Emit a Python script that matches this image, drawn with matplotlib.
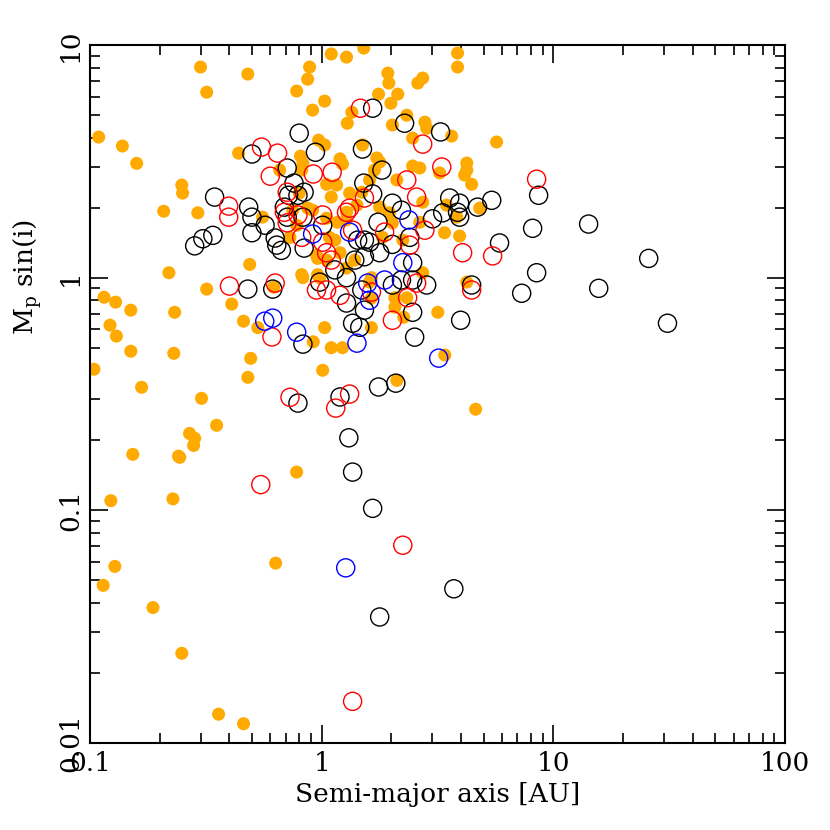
import matplotlib
matplotlib.use("Agg")
import matplotlib.pyplot as plt
from matplotlib.ticker import LogLocator, NullFormatter, FixedLocator

# ---- data: semi-major axis [AU], Mp sin(i) ----
orange_a = [0.30, 0.48, 0.319, 1.10, 1.28, 1.52, 0.887, 0.87, 0.78, 1.03, 0.914, 1.93, 1.95, 1.76,
            2.13, 1.99, 2.60, 2.73, 3.86, 3.86, 1.35, 1.29, 2.02, 2.33, 2.79, 2.84, 3.64, 2.47, 5.69,
            0.97, 1.03, 1.50, 0.438, 0.81, 1.20, 1.23, 1.73, 1.78, 4.23, 4.23, 4.14, 4.44, 2.47, 2.65,
            3.23, 1.69, 2.11, 1.05, 1.16, 0.659, 0.82, 0.249, 0.251, 0.80, 1.10, 1.32, 1.61, 2.73,
            0.292, 0.556, 0.75, 0.914, 1.42, 1.78, 1.96, 3.46, 3.83, 4.81, 3.39, 3.94, 1.28, 2.02,
            1.08, 0.73, 0.96, 1.05, 1.20, 0.489, 0.82, 1.28, 2.73, 0.319, 0.409, 0.46, 0.53, 0.494,
            0.48, 0.303, 0.352, 0.269, 0.283, 0.28, 0.244, 0.78, 0.83, 0.62, 1.03, 0.92, 1.10, 1.23,
            1.01, 1.64, 2.07, 2.07, 2.26, 3.17, 2.11, 3.40, 4.62, 4.23, 1.64, 0.96, 0.109, 0.138,
            0.159, 0.208, 0.219, 0.115, 0.129, 0.15, 0.232, 0.122, 0.13, 0.15, 0.23, 0.104, 0.167,
            0.153, 0.241, 0.123, 0.228, 0.128, 0.114, 0.187, 0.249, 0.359, 0.46, 0.633, 0.83, 1.28,
            0.87, 1.05, 1.17, 0.78, 1.14, 1.49, 2.65, 2.24, 1.83, 0.95, 1.39, 0.98, 1.61, 1.64, 2.33]
orange_m = [8.04, 7.50, 6.27, 9.15, 8.87, 9.70, 8.04, 7.13, 6.34, 5.74, 5.25, 7.57, 6.86, 6.15,
            6.15, 5.62, 6.86, 7.21, 9.23, 8.04, 5.14, 4.61, 4.53, 4.99, 4.66, 4.39, 4.06, 3.98, 3.83,
            3.90, 3.72, 3.72, 3.43, 3.33, 3.24, 3.08, 3.27, 3.14, 3.11, 2.90, 2.76, 2.52, 3.02, 2.96,
            2.82, 2.90, 2.63, 2.52, 2.50, 2.90, 2.90, 2.50, 2.31, 2.31, 2.22, 2.31, 2.63, 2.11,
            1.90, 1.82, 1.95, 1.95, 2.05, 2.01, 1.90, 2.05, 1.82, 1.99, 1.56, 1.51, 1.77, 1.72,
            1.49, 1.49, 1.21, 1.19, 1.28, 1.14, 1.03, 1.10, 1.05, 0.893, 0.77, 0.65, 0.61, 0.45,
            0.373, 0.303, 0.232, 0.214, 0.204, 0.19, 0.169, 0.146, 1.0, 0.91, 0.61, 0.53, 0.50, 0.50,
            0.40, 0.61, 0.82, 0.746, 0.676, 0.71, 0.362, 0.465, 0.272, 0.957, 1.0, 1.03, 4.02, 3.68,
            3.10, 1.93, 1.05, 0.824, 0.785, 0.725, 0.71, 0.625, 0.561, 0.483, 0.473, 0.404, 0.338,
            0.174, 0.171, 0.11, 0.112, 0.0574, 0.0476, 0.0382, 0.0243, 0.0133, 0.0121, 0.0593, 3.10, 1.91,
            1.99, 1.80, 1.73, 1.68, 1.45, 2.33, 1.73, 1.45, 1.49, 1.25, 1.19, 1.0, 0.957, 0.817, 0.82]

black_a = [1.66, 2.28, 3.26, 0.80, 0.94, 1.50, 0.50, 1.82, 0.71, 1.52, 0.76, 0.84, 1.66, 0.72,
           0.79, 0.345, 0.484, 0.50, 0.57, 2.02, 2.21, 3.57, 3.94, 3.94, 4.71, 5.42, 3.33, 3.01,
           1.75, 1.01, 0.83, 0.69, 0.71, 0.283, 0.307, 0.339, 0.50, 0.63, 0.64, 0.67, 0.84, 1.43,
           1.53, 1.61, 2.02, 2.40, 1.78, 1.53, 2.47, 5.86, 1.39, 1.14, 0.48, 0.615, 0.98, 1.28,
           1.49, 1.28, 1.53, 1.36, 1.46, 2.02, 2.21, 2.47, 2.84, 2.47, 2.52, 3.98, 4.44, 0.83,
           0.79, 1.20, 1.76, 2.09, 1.31, 1.36, 1.66, 3.72, 1.78, 8.64, 3.86, 8.14, 14.2, 25.8,
           8.47, 15.7, 7.30, 31.1]
black_m = [5.35, 4.61, 4.23, 4.18, 3.46, 3.57, 3.40, 2.90, 2.96, 2.55, 2.55, 2.33, 2.29, 2.26,
           2.26, 2.22, 2.01, 1.82, 1.68, 2.09, 1.95, 2.20, 2.09, 1.82, 2.01, 2.15, 1.90, 1.79,
           1.73, 1.68, 1.82, 2.01, 1.82, 1.37, 1.47, 1.52, 1.56, 1.48, 1.38, 1.31, 1.34, 1.45,
           1.45, 1.42, 1.39, 1.49, 1.28, 1.23, 1.16, 1.41, 1.19, 1.08, 0.893, 0.893, 0.957, 1.0,
           0.885, 0.778, 0.725, 0.637, 0.612, 0.93, 0.977, 0.977, 0.93, 0.71, 0.555, 0.656, 0.93, 0.518,
           0.289, 0.307, 0.339, 0.352, 0.205, 0.146, 0.102, 0.046, 0.0348, 2.26, 1.91, 1.63, 1.70, 1.21,
           1.05, 0.90, 0.857, 0.637]

red_a = [1.47, 0.55, 0.645, 2.73, 3.30, 0.60, 0.92, 1.11, 2.33, 2.57, 0.71, 1.53, 1.32, 1.28,
         0.397, 0.397, 0.69, 0.71, 0.79, 1.01, 1.36, 1.87, 2.79, 2.40, 0.82, 1.01, 1.05, 1.10,
         4.06, 5.47, 8.47, 0.40, 0.63, 0.95, 1.05, 1.20, 1.64, 2.35, 2.57, 2.02, 0.61, 4.44,
         0.73, 1.32, 1.15, 0.546, 2.24, 1.36]
red_m = [5.35, 3.64, 3.43, 3.75, 2.99, 2.73, 2.79, 2.84, 2.63, 2.22, 2.33, 2.20, 1.99, 1.91,
         2.03, 1.82, 1.91, 1.72, 1.86, 1.86, 1.60, 1.57, 1.60, 1.38, 1.49, 1.42, 1.28, 1.19,
         1.28, 1.24, 2.65, 0.92, 0.948, 0.885, 0.885, 0.84, 0.867, 0.82, 0.948, 0.656, 0.556, 0.885,
         0.306, 0.316, 0.275, 0.129, 0.0708, 0.0151]

blue_a = [0.914, 1.32, 2.38, 2.24, 0.568, 0.615, 0.78, 1.42, 1.58, 1.61, 1.87, 3.20, 1.27]
blue_m = [1.54, 1.57, 1.77, 1.16, 0.65, 0.67, 0.583, 0.523, 0.948, 0.80, 0.977, 0.451, 0.0566]

x_ticks = [0.1, 1, 10, 100]
x_tick_labels = ["0.1", "1", "10", "100"]
y_ticks = [0.01, 0.1, 1, 10]
y_tick_labels = ["0.01", "0.1", "1", "10"]

plt.rcParams['font.family'] = ['DejaVu Serif']
plt.rcParams['mathtext.fontset'] = 'dejavuserif'

fig = plt.figure(figsize=(8.3, 8.3), dpi=100)
ax = fig.add_axes([90 / 830, 87 / 830, 695 / 830, 698 / 830])

ax.scatter(orange_a, orange_m, s=88, c='#FFAA00', edgecolors='none', zorder=2)
ax.scatter(black_a, black_m, s=170, facecolors='none', edgecolors='black', linewidths=1.0, zorder=3)
ax.scatter(red_a, red_m, s=170, facecolors='none', edgecolors='red', linewidths=1.0, zorder=4)
ax.scatter(blue_a, blue_m, s=170, facecolors='none', edgecolors='blue', linewidths=1.0, zorder=5)

ax.set_xscale('log')
ax.set_yscale('log')
ax.set_xlim(0.1, 100)
ax.set_ylim(0.01, 10)

ax.xaxis.set_major_locator(FixedLocator(x_ticks))
ax.set_xticklabels(x_tick_labels)
ax.yaxis.set_major_locator(FixedLocator(y_ticks))
ax.set_yticklabels(y_tick_labels, rotation=90, va='center')
ax.xaxis.set_minor_locator(LogLocator(base=10, subs=range(2, 10), numticks=20))
ax.yaxis.set_minor_locator(LogLocator(base=10, subs=range(2, 10), numticks=20))
ax.xaxis.set_minor_formatter(NullFormatter())
ax.yaxis.set_minor_formatter(NullFormatter())

ax.tick_params(which='both', direction='in', top=True, right=True, width=1.2)
ax.tick_params(which='major', length=13, labelsize=19, pad=6)
ax.tick_params(which='minor', length=7)
ax.tick_params(axis='y', which='major', pad=5)
for s in ax.spines.values():
    s.set_linewidth(1.5)

ax.set_xlabel('Semi-major axis [AU]', fontsize=19, labelpad=4)
ax.set_ylabel(r'M$_{\rm p}$ sin(i)', fontsize=19)
ax.yaxis.set_label_coords(-0.066, 0.668)

fig.savefig('out.png', dpi=100)
